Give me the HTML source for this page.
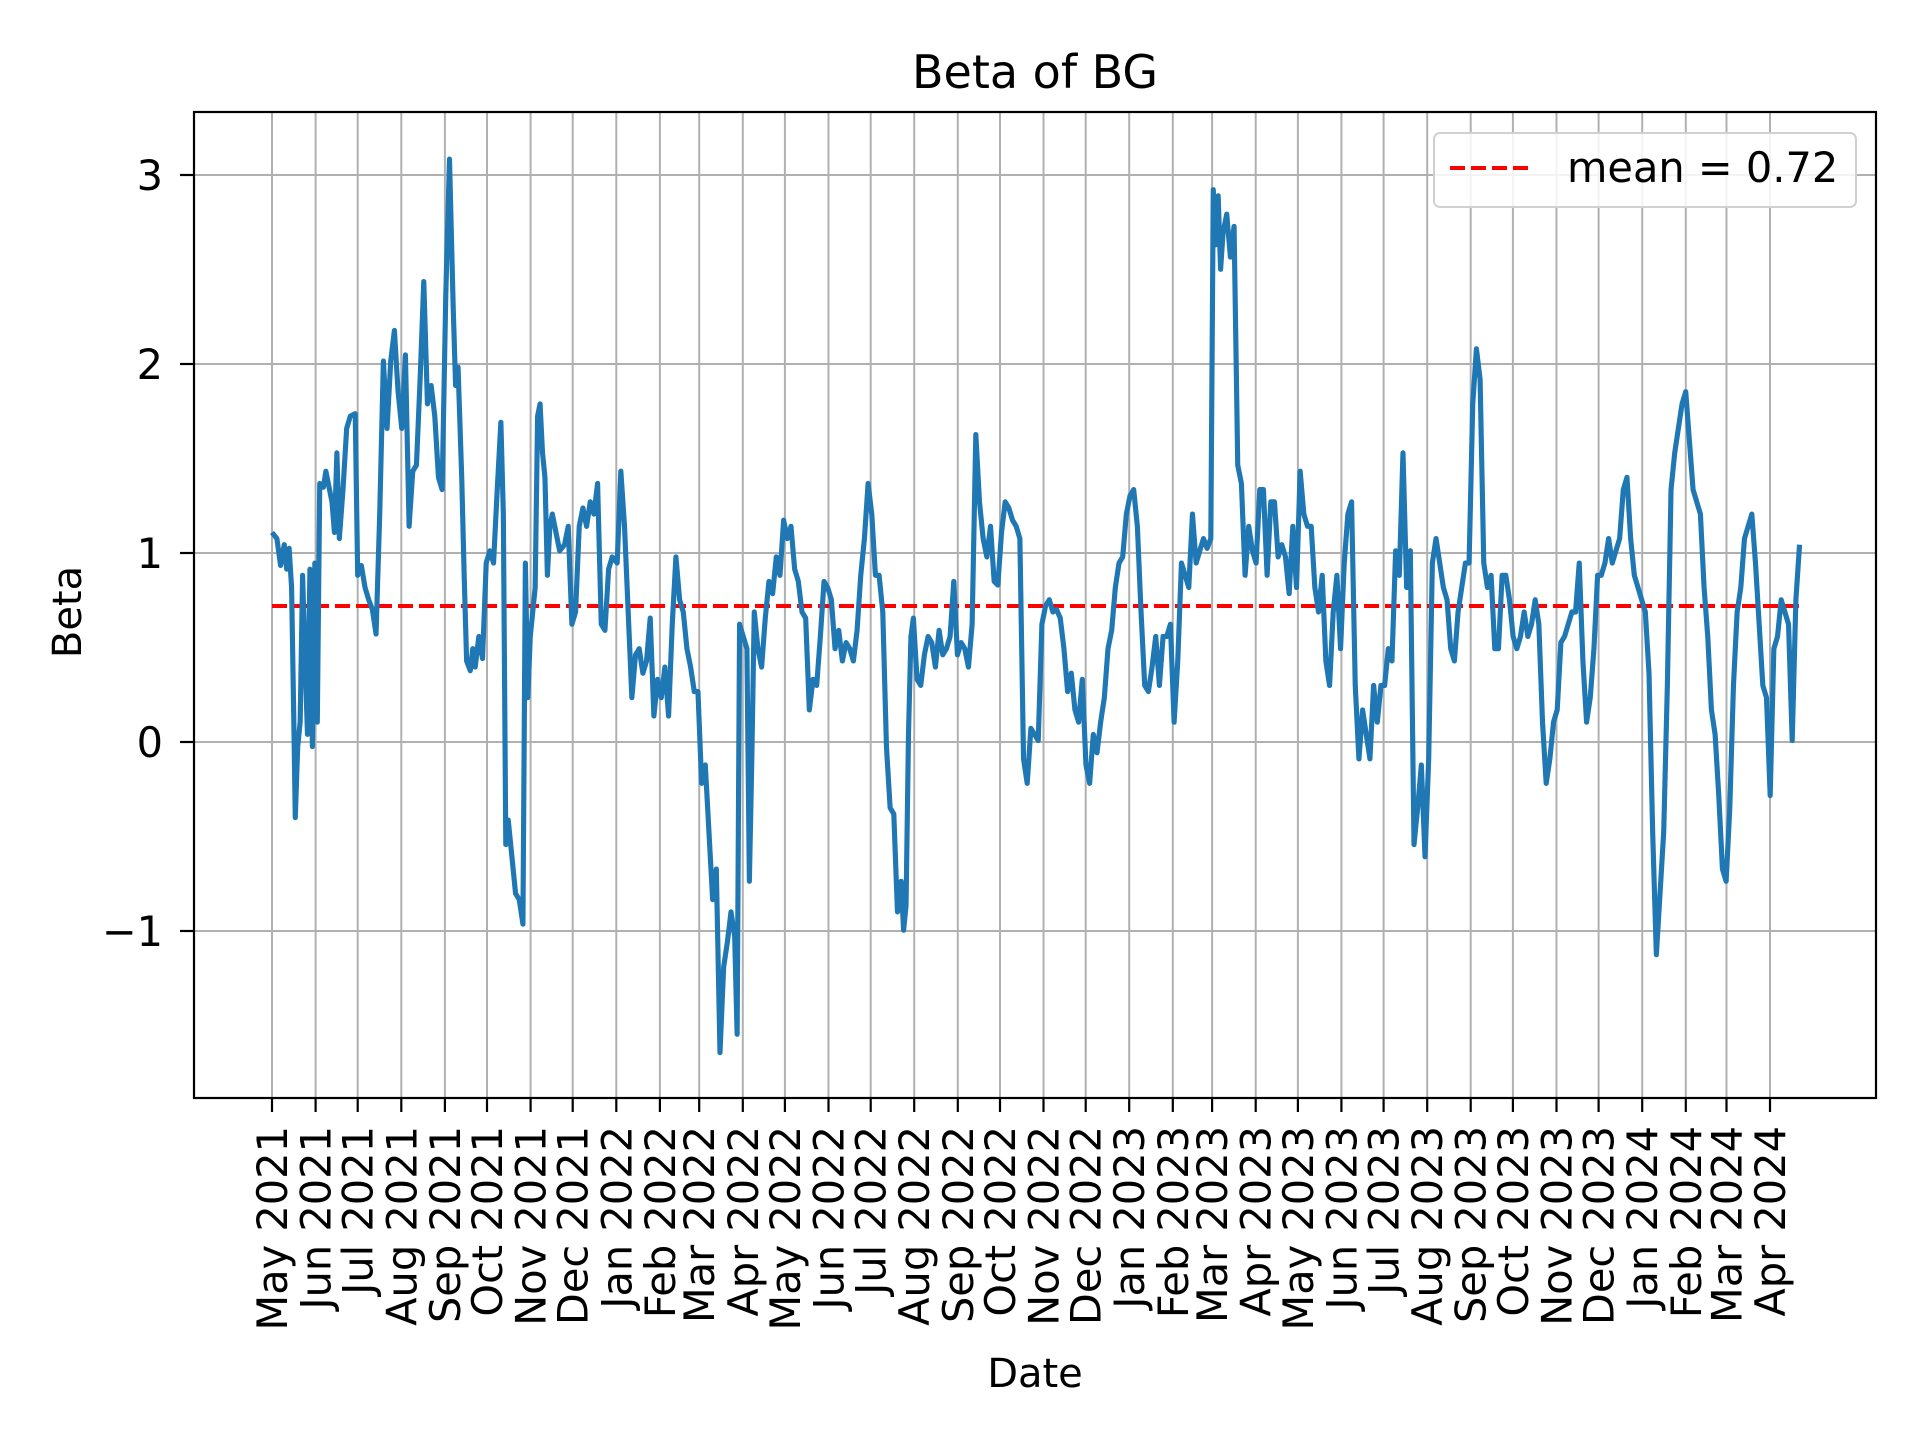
<!DOCTYPE html>
<html><head><meta charset="utf-8"><style>
html,body{margin:0;padding:0;background:#fff;}
svg{display:block;font-family:"DejaVu Sans","Liberation Sans",sans-serif;}
</style></head><body>
<svg width="1920" height="1440" viewBox="0 0 1920 1440" xmlns="http://www.w3.org/2000/svg">
<rect width="1920" height="1440" fill="#fff"/>
<g stroke="#b0b0b0" stroke-width="2">
<line x1="194" x2="1876" y1="175" y2="175"/><line x1="194" x2="1876" y1="364" y2="364"/><line x1="194" x2="1876" y1="553" y2="553"/><line x1="194" x2="1876" y1="742" y2="742"/><line x1="194" x2="1876" y1="931" y2="931"/>
<line x1="272" x2="272" y1="112" y2="1098"/><line x1="315.6" x2="315.6" y1="112" y2="1098"/><line x1="357.7" x2="357.7" y1="112" y2="1098"/><line x1="401.3" x2="401.3" y1="112" y2="1098"/><line x1="444.9" x2="444.9" y1="112" y2="1098"/><line x1="487" x2="487" y1="112" y2="1098"/><line x1="530.6" x2="530.6" y1="112" y2="1098"/><line x1="572.7" x2="572.7" y1="112" y2="1098"/><line x1="616.3" x2="616.3" y1="112" y2="1098"/><line x1="659.9" x2="659.9" y1="112" y2="1098"/><line x1="699.2" x2="699.2" y1="112" y2="1098"/><line x1="742.8" x2="742.8" y1="112" y2="1098"/><line x1="784.9" x2="784.9" y1="112" y2="1098"/><line x1="828.5" x2="828.5" y1="112" y2="1098"/><line x1="870.7" x2="870.7" y1="112" y2="1098"/><line x1="914.2" x2="914.2" y1="112" y2="1098"/><line x1="957.8" x2="957.8" y1="112" y2="1098"/><line x1="1000" x2="1000" y1="112" y2="1098"/><line x1="1043.5" x2="1043.5" y1="112" y2="1098"/><line x1="1085.7" x2="1085.7" y1="112" y2="1098"/><line x1="1129.2" x2="1129.2" y1="112" y2="1098"/><line x1="1172.8" x2="1172.8" y1="112" y2="1098"/><line x1="1212.1" x2="1212.1" y1="112" y2="1098"/><line x1="1255.7" x2="1255.7" y1="112" y2="1098"/><line x1="1297.9" x2="1297.9" y1="112" y2="1098"/><line x1="1341.4" x2="1341.4" y1="112" y2="1098"/><line x1="1383.6" x2="1383.6" y1="112" y2="1098"/><line x1="1427.2" x2="1427.2" y1="112" y2="1098"/><line x1="1470.7" x2="1470.7" y1="112" y2="1098"/><line x1="1512.9" x2="1512.9" y1="112" y2="1098"/><line x1="1556.5" x2="1556.5" y1="112" y2="1098"/><line x1="1598.6" x2="1598.6" y1="112" y2="1098"/><line x1="1642.2" x2="1642.2" y1="112" y2="1098"/><line x1="1685.8" x2="1685.8" y1="112" y2="1098"/><line x1="1726.5" x2="1726.5" y1="112" y2="1098"/><line x1="1770" x2="1770" y1="112" y2="1098"/>
</g>
<line x1="272" x2="1800" y1="606" y2="606" stroke="#ff0000" stroke-width="4" stroke-dasharray="15,6"/>
<g transform="translate(1.5,0) scale(1.224)">
<polyline fill="none" stroke="#1f77b4" stroke-width="4.2" stroke-linejoin="round" points="221,435 225,440 228,462 231,445 233,465 235,448 237,480 239,600 240,668 242,610 244,590 246,470 248,540 250,600 252,465 254,610 256,460 258,590 260,395 263,398 265,385 268,400 270,410 272,435 274,370 276,440 279,400 282,350 285,340 289,338 291,470 294,462 297,480 300,490 303,498 306,518 309,420 312,295 315,350 318,295 321,270 324,320 327,350 330,290 333,430 336,385 339,380 342,310 345,230 348,330 351,315 354,340 357,390 360,400 363,240 366,130 369,250 371,315 373,300 376,390 378,470 380,540 383,548 385,530 387,545 390,520 393,538 396,460 399,450 402,460 405,400 408,345 410,420 412,690 414,670 417,700 420,730 423,735 426,755 428,460 430,570 432,520 434,500 436,480 438,340 440,330 442,370 444,390 446,470 448,430 450,420 453,435 456,450 460,445 463,430 466,510 469,500 472,430 475,415 478,430 481,410 484,420 487,395 490,510 493,515 496,465 499,455 503,460 506,385 509,430 512,500 515,570 518,535 521,530 524,550 527,540 530,505 533,585 536,555 539,570 542,545 545,585 548,510 551,455 554,490 557,500 560,530 563,545 566,565 569,565 572,640 575,625 578,680 581,735 584,710 587,860 590,790 593,770 596,745 599,765 601,845 603,510 606,520 609,530 611,720 613,620 615,500 618,530 621,545 624,505 627,475 630,485 633,455 636,470 639,425 642,440 645,430 648,465 651,475 654,500 657,505 660,580 663,555 666,560 669,520 672,475 675,480 678,490 681,530 684,515 687,540 690,525 693,530 696,540 699,515 702,470 705,440 708,395 711,420 714,470 717,470 720,500 723,610 726,660 729,665 732,745 735,720 737,760 739,740 741,600 743,520 745,505 748,555 751,560 754,535 757,520 760,525 763,545 766,515 769,535 772,530 775,520 778,475 781,535 784,525 787,530 790,545 793,510 796,355 799,410 802,440 805,455 808,430 811,475 814,478 817,435 820,410 823,415 826,425 829,430 832,440 835,620 838,640 841,595 844,600 847,605 850,510 853,495 856,490 859,500 862,498 865,505 868,530 871,565 874,550 877,580 880,590 883,555 886,625 889,640 892,600 895,615 898,590 901,570 904,530 907,515 910,480 913,460 916,455 919,420 922,405 925,400 928,430 931,500 934,560 937,565 940,545 943,520 946,560 949,520 952,520 955,510 958,590 961,540 964,460 967,470 970,480 973,420 976,460 979,450 982,440 985,448 988,440 990,155 992,200 994,160 996,220 998,190 1001,175 1004,210 1007,185 1010,380 1013,395 1016,470 1019,430 1022,450 1025,460 1028,400 1031,400 1034,470 1037,410 1040,410 1043,455 1046,445 1049,455 1052,485 1055,430 1058,480 1061,385 1064,420 1067,430 1070,430 1073,480 1076,500 1079,470 1082,540 1085,560 1088,500 1091,470 1094,530 1097,460 1100,420 1103,410 1106,560 1109,620 1112,580 1115,600 1118,620 1121,560 1124,590 1127,560 1130,560 1133,530 1136,540 1139,450 1142,470 1145,370 1148,480 1151,450 1154,690 1157,660 1160,625 1163,700 1166,620 1169,460 1172,440 1175,460 1178,480 1181,490 1184,530 1187,540 1190,500 1193,480 1196,460 1199,460 1202,330 1205,285 1208,310 1211,460 1214,480 1217,470 1220,530 1223,530 1226,470 1229,470 1232,490 1235,520 1238,530 1241,520 1244,500 1247,520 1250,510 1253,490 1256,510 1259,590 1262,640 1265,620 1268,590 1271,580 1274,525 1277,520 1280,510 1283,500 1286,500 1289,460 1292,540 1295,590 1298,570 1301,530 1304,470 1307,470 1310,460 1313,440 1316,460 1319,450 1322,440 1325,400 1328,390 1331,440 1334,470 1337,480 1340,490 1343,500 1346,550 1349,680 1352,780 1355,730 1358,680 1361,560 1364,400 1367,370 1370,350 1373,330 1376,320 1379,360 1382,400 1385,410 1388,420 1391,480 1394,520 1397,580 1400,600 1403,650 1406,710 1409,720 1412,660 1415,560 1418,500 1421,480 1424,440 1427,430 1430,420 1433,460 1436,510 1439,560 1442,570 1445,650 1448,530 1451,520 1454,490 1457,500 1460,510 1463,605 1466,490 1469,445"/>
</g>
<rect x="194" y="112" width="1682" height="986" fill="none" stroke="#000" stroke-width="2.2"/>
<g stroke="#000" stroke-width="2.2">
<line x1="180" x2="194" y1="175" y2="175"/><line x1="180" x2="194" y1="364" y2="364"/><line x1="180" x2="194" y1="553" y2="553"/><line x1="180" x2="194" y1="742" y2="742"/><line x1="180" x2="194" y1="931" y2="931"/>
<line x1="272" x2="272" y1="1098" y2="1112"/><line x1="315.6" x2="315.6" y1="1098" y2="1112"/><line x1="357.7" x2="357.7" y1="1098" y2="1112"/><line x1="401.3" x2="401.3" y1="1098" y2="1112"/><line x1="444.9" x2="444.9" y1="1098" y2="1112"/><line x1="487" x2="487" y1="1098" y2="1112"/><line x1="530.6" x2="530.6" y1="1098" y2="1112"/><line x1="572.7" x2="572.7" y1="1098" y2="1112"/><line x1="616.3" x2="616.3" y1="1098" y2="1112"/><line x1="659.9" x2="659.9" y1="1098" y2="1112"/><line x1="699.2" x2="699.2" y1="1098" y2="1112"/><line x1="742.8" x2="742.8" y1="1098" y2="1112"/><line x1="784.9" x2="784.9" y1="1098" y2="1112"/><line x1="828.5" x2="828.5" y1="1098" y2="1112"/><line x1="870.7" x2="870.7" y1="1098" y2="1112"/><line x1="914.2" x2="914.2" y1="1098" y2="1112"/><line x1="957.8" x2="957.8" y1="1098" y2="1112"/><line x1="1000" x2="1000" y1="1098" y2="1112"/><line x1="1043.5" x2="1043.5" y1="1098" y2="1112"/><line x1="1085.7" x2="1085.7" y1="1098" y2="1112"/><line x1="1129.2" x2="1129.2" y1="1098" y2="1112"/><line x1="1172.8" x2="1172.8" y1="1098" y2="1112"/><line x1="1212.1" x2="1212.1" y1="1098" y2="1112"/><line x1="1255.7" x2="1255.7" y1="1098" y2="1112"/><line x1="1297.9" x2="1297.9" y1="1098" y2="1112"/><line x1="1341.4" x2="1341.4" y1="1098" y2="1112"/><line x1="1383.6" x2="1383.6" y1="1098" y2="1112"/><line x1="1427.2" x2="1427.2" y1="1098" y2="1112"/><line x1="1470.7" x2="1470.7" y1="1098" y2="1112"/><line x1="1512.9" x2="1512.9" y1="1098" y2="1112"/><line x1="1556.5" x2="1556.5" y1="1098" y2="1112"/><line x1="1598.6" x2="1598.6" y1="1098" y2="1112"/><line x1="1642.2" x2="1642.2" y1="1098" y2="1112"/><line x1="1685.8" x2="1685.8" y1="1098" y2="1112"/><line x1="1726.5" x2="1726.5" y1="1098" y2="1112"/><line x1="1770" x2="1770" y1="1098" y2="1112"/>
</g>
<g font-size="41.5" text-anchor="end" fill="#000">
<text x="163" y="190">3</text><text x="163" y="379">2</text><text x="163" y="568">1</text><text x="163" y="757">0</text><text x="163" y="946">−1</text>
</g>
<g font-size="41.5" text-anchor="end" fill="#000">
<text transform="translate(287,1126) rotate(-90)">May 2021</text>
<text transform="translate(330.6,1126) rotate(-90)">Jun 2021</text>
<text transform="translate(372.7,1126) rotate(-90)">Jul 2021</text>
<text transform="translate(416.3,1126) rotate(-90)">Aug 2021</text>
<text transform="translate(459.9,1126) rotate(-90)">Sep 2021</text>
<text transform="translate(502,1126) rotate(-90)">Oct 2021</text>
<text transform="translate(545.6,1126) rotate(-90)">Nov 2021</text>
<text transform="translate(587.7,1126) rotate(-90)">Dec 2021</text>
<text transform="translate(631.3,1126) rotate(-90)">Jan 2022</text>
<text transform="translate(674.9,1126) rotate(-90)">Feb 2022</text>
<text transform="translate(714.2,1126) rotate(-90)">Mar 2022</text>
<text transform="translate(757.8,1126) rotate(-90)">Apr 2022</text>
<text transform="translate(799.9,1126) rotate(-90)">May 2022</text>
<text transform="translate(843.5,1126) rotate(-90)">Jun 2022</text>
<text transform="translate(885.7,1126) rotate(-90)">Jul 2022</text>
<text transform="translate(929.2,1126) rotate(-90)">Aug 2022</text>
<text transform="translate(972.8,1126) rotate(-90)">Sep 2022</text>
<text transform="translate(1015,1126) rotate(-90)">Oct 2022</text>
<text transform="translate(1058.5,1126) rotate(-90)">Nov 2022</text>
<text transform="translate(1100.7,1126) rotate(-90)">Dec 2022</text>
<text transform="translate(1144.2,1126) rotate(-90)">Jan 2023</text>
<text transform="translate(1187.8,1126) rotate(-90)">Feb 2023</text>
<text transform="translate(1227.1,1126) rotate(-90)">Mar 2023</text>
<text transform="translate(1270.7,1126) rotate(-90)">Apr 2023</text>
<text transform="translate(1312.9,1126) rotate(-90)">May 2023</text>
<text transform="translate(1356.4,1126) rotate(-90)">Jun 2023</text>
<text transform="translate(1398.6,1126) rotate(-90)">Jul 2023</text>
<text transform="translate(1442.2,1126) rotate(-90)">Aug 2023</text>
<text transform="translate(1485.7,1126) rotate(-90)">Sep 2023</text>
<text transform="translate(1527.9,1126) rotate(-90)">Oct 2023</text>
<text transform="translate(1571.5,1126) rotate(-90)">Nov 2023</text>
<text transform="translate(1613.6,1126) rotate(-90)">Dec 2023</text>
<text transform="translate(1657.2,1126) rotate(-90)">Jan 2024</text>
<text transform="translate(1700.8,1126) rotate(-90)">Feb 2024</text>
<text transform="translate(1741.5,1126) rotate(-90)">Mar 2024</text>
<text transform="translate(1785,1126) rotate(-90)">Apr 2024</text>
</g>
<text x="1035" y="88" font-size="46" text-anchor="middle">Beta of BG</text>
<text x="1035" y="1387" font-size="40" text-anchor="middle">Date</text>
<text transform="translate(81,612) rotate(-90)" font-size="40" text-anchor="middle">Beta</text>
<rect x="1434" y="133" width="422" height="74" rx="6" fill="#fff" fill-opacity="0.85" stroke="#d0d0d0" stroke-width="2"/>
<line x1="1450" x2="1534" y1="168" y2="168" stroke="#ff0000" stroke-width="4" stroke-dasharray="15,6"/>
<text x="1567" y="182" font-size="41.5">mean = 0.72</text>
</svg>
</body></html>
